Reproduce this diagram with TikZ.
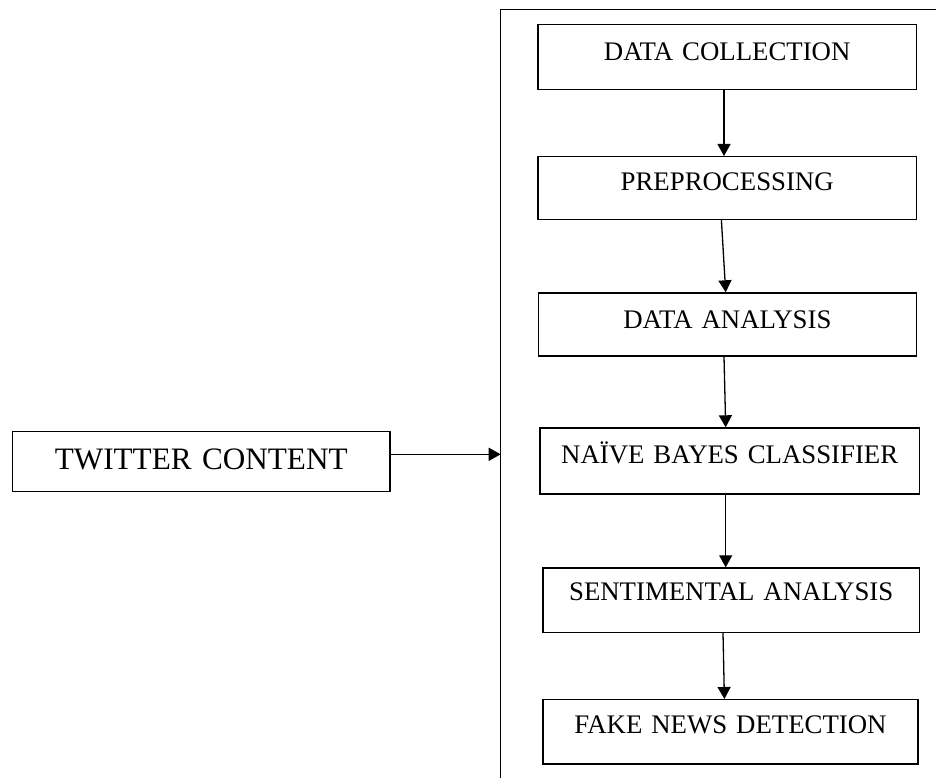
\documentclass[tikz,border=0pt]{standalone}
\usepackage{fontspec}
\setmainfont{Liberation Serif}
\usetikzlibrary{arrows.meta}
\begin{document}
\begin{tikzpicture}[x=1pt,y=-1pt,
  stepbox/.style={draw, line width=1.4pt, inner sep=0pt, align=center, anchor=north west,
    font=\fontsize{26.8}{30}\selectfont},
  arr/.style={line width=1.3pt, -{Triangle[length=12pt,width=13pt]}}]
\useasboundingbox (0,0) rectangle (936,778);
% container (clipped by picture frame)
\draw[line width=1.4pt] (936,9.3) -- (500.7,9.3) -- (500.7,778);
\coordinate (cin) at (500.7,454.3);
\node[stepbox, text width=378.4pt, text height=36pt, text depth=28.7pt] (dc) at (537.3,24) {DATA COLLECTION};
\node[stepbox, text width=378.4pt, text height=33.3pt, text depth=29.4pt] (pre) at (537.3,156) {PREPROCESSING};
\node[stepbox, text width=378pt, text height=35pt, text depth=28pt] (da) at (537.7,292.3) {DATA ANALYSIS};
\node[stepbox, text width=379.4pt, text height=35pt, text depth=31pt] (nb) at (539.3,427.3) {NAÏVE BAYES CLASSIFIER};
\node[stepbox, text width=376.4pt, text height=32.7pt, text depth=31.7pt] (sa) at (542.3,567.3) {SENTIMENTAL ANALYSIS};
\node[stepbox, text width=375pt, text height=33.3pt, text depth=31pt] (fn) at (542.3,699) {FAKE NEWS DETECTION};
\node[stepbox, text width=377.6pt, text height=38.3pt, text depth=22pt, font=\fontsize{31.2}{34}\selectfont] (tw) at (11.7,430.7) {TWITTER CONTENT};
\draw[arr] ([xshift=-3.2pt]dc.south) -- ([xshift=-3.2pt]dc.south |- pre.north);
\draw[arr] ([xshift=-5.8pt]pre.south) -- ([xshift=-1.7pt]da.north);
\draw[arr] ([xshift=-3.4pt]da.south) -- ([xshift=-4pt]nb.north);
\draw[arr] ([xshift=-4pt]nb.south) -- ([xshift=-5.5pt]sa.north);
\draw[arr] ([xshift=-8.2pt]sa.south) -- ([xshift=-6.1pt]fn.north);
\draw[arr] (tw.east |- cin) -- (cin);
\end{tikzpicture}
\end{document}
